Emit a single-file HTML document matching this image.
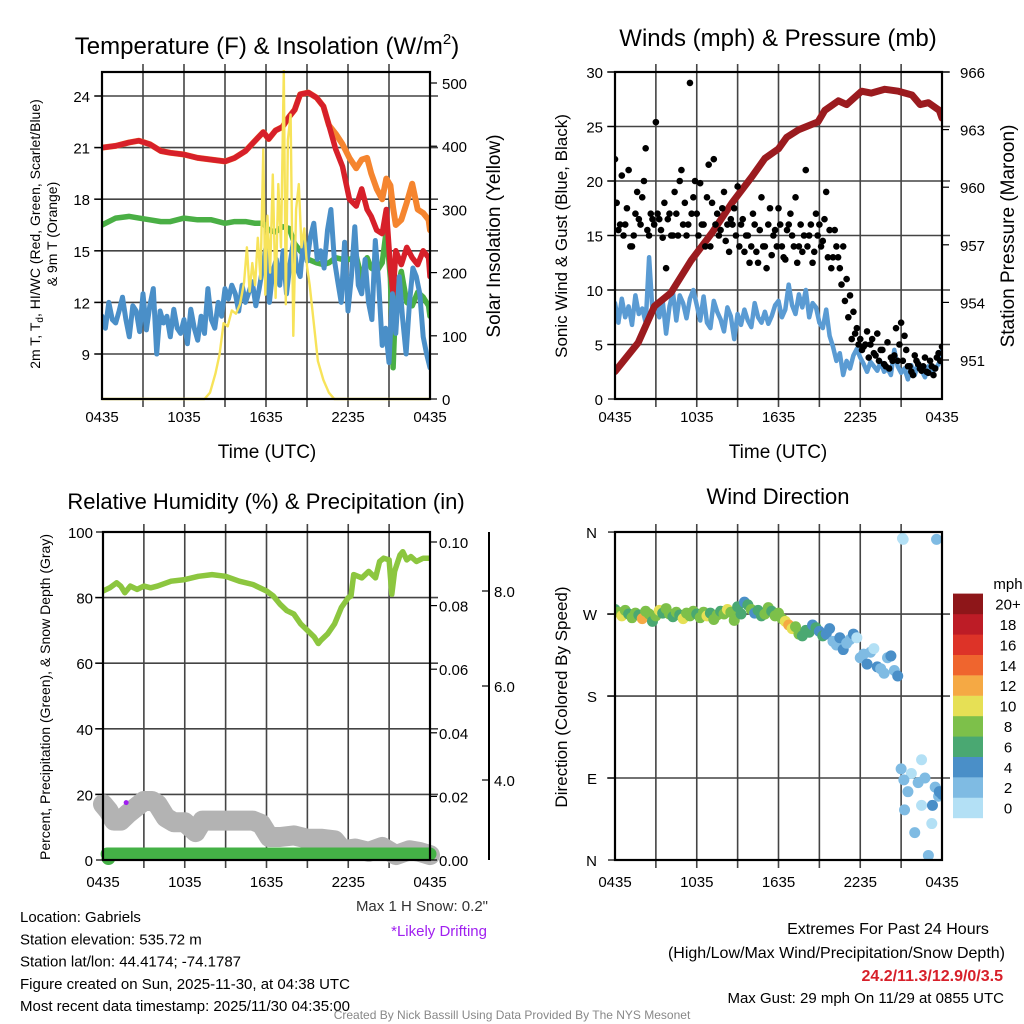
<!DOCTYPE html>
<html><head><meta charset="utf-8">
<style>
html,body{margin:0;padding:0;background:#fff;}
svg{display:block;font-family:"Liberation Sans",Arial,sans-serif;}
</style></head>
<body>
<svg id="chart" xmlns="http://www.w3.org/2000/svg" width="1024" height="1024" viewBox="0 0 1024 1024"></svg>
<script>
// ---------- data ----------
const tickLabels = ["0435","1035","1635","2235","0435"];
const tH = [0,1,2,2.7,3.5,4.3,5,6,7,8,9,9.7,10.5,11.2,11.8,12.2,12.7,13.2,13.7,14.1,14.5,15.1,15.7,16.2,16.6,17.1,17.6,18.1,18.6,19,19.4,19.7,20.1,20.5,20.8,21.1,21.3,21.5,21.9,22.3,22.7,23.1,23.5,23.9,24];
const temp2m = [21,21.1,21.3,21.4,21.2,20.8,20.7,20.6,20.4,20.3,20.2,20.4,20.8,21.4,21.9,21.5,22,22.2,22.8,23.2,24.1,24.2,23.9,23.4,22.3,20.9,19.9,18,17.6,18.6,17.4,17,16.2,16,17.4,14,12.5,15,14.2,15.2,14.6,14.2,15,14.6,13.5];
const temp9m = [21,21.1,21.3,21.4,21.2,20.8,20.7,20.6,20.4,20.3,20.2,20.4,20.8,21.4,21.9,21.5,22,22.2,22.8,23.2,24.1,24.2,23.9,23.4,22.3,21.8,21.2,20.4,19.8,20.3,20.4,19.5,18.6,18,19.2,18.8,17.5,16.5,16.8,17.8,18.9,17.4,17.2,16.8,16.2];
const dewpoint = [16.5,16.9,17.0,16.9,16.8,16.7,16.7,16.9,16.8,16.8,16.6,16.7,16.7,16.6,16.6,16.2,16.1,16.4,16.3,15.4,15,14.5,14.3,14.2,14.3,14.6,14.5,14.5,14.7,13.4,14.6,14.0,13.8,14.3,16.2,13.4,8.2,12.4,13.8,12,11.8,12.6,12.3,11.8,11.2];
const windChill = [11.2,10.5,12,11,10.8,11.5,12.3,11,10,11.8,11.5,10.3,
12.5,10.4,11.8,12.8,9.0,11.5,10.8,11.2,10,11.6,10.5,10.2,
11,9.6,11.6,10.5,9.8,11.2,10.2,12.8,11,10.5,12,11.2,
12.8,12.2,13,12.5,11.5,13,12,12.6,13.2,11.8,12.8,14,
15.2,12,13.8,14.5,13,15,12.5,14.2,15.5,14,13.5,15.8,
14.4,15.8,16.6,14.5,15,14,16.2,17.4,14.5,13.2,12,15.5,
11.5,13.5,16.4,13,12.5,14.5,12,11,15.6,13,9.5,10.5,
8.5,12.5,10.2,13.5,11,9,12,14,13.5,12.5,10,9.0,8.2];
const solarH = [0,7.5,7.9,8.3,8.6,8.9,9.2,9.5,9.8,10.1,10.4,10.6,10.8,11.0,11.2,11.4,11.6,11.8,11.95,12.1,12.3,12.5,12.7,12.9,13.1,13.3,13.45,13.6,13.8,14.0,14.2,14.4,14.6,14.8,15.0,15.2,15.5,15.8,16.2,16.6,17.0,24];
const solar = [0,0,10,40,70,120,115,140,135,150,185,240,170,215,180,255,190,395,165,290,200,355,160,340,240,520,150,410,450,100,300,340,240,270,210,180,120,60,30,10,0,0];
const windSpd = [8.8,7,9.2,7.5,8.5,6.8,9.5,7.8,8.3,7,13,8,
8.8,7.5,9,6,8.5,9.8,7.2,9.5,8.8,7.4,9.2,10,
8.6,7.2,9.4,7,6.5,9,8,7.3,6.2,8.4,7.6,5.5,
7.8,6.8,8.2,7.2,6.6,8.8,7.5,7,8,6.9,7.6,8.6,
9,7.5,8.2,10.5,8.6,7.8,9.6,8.4,10,7.5,8.8,8.4,
7,6.5,8.2,5.8,4.8,3.5,4.2,2.2,3.5,2.8,4,4.6,
3.8,3.2,2.5,3.4,3,2.6,3.4,2.5,2.8,2.2,4.5,3,
2.4,2.8,1.8,3.1,2.2,3.4,2.6,2,3,2.4,2.8,3.2,4.5];
const gustA = [22,15.5,20.5,16,21,14,17,16.5,18.5,23,15,16.5,
25.4,16.5,14.8,12,17,15,17,20,16,15,29,18.5,
17,19.8,16,18.5,14,22,17,15.5,19,16,16.5,17.5,
19.5,16,13.5,15,14,16,12.5,18.5,14,16,13.2,15.5,
17.5,14,12.8,16,15,18.5,14,13.5,21,15,12.5,17,
16,14.5,19,15.5,13,14,12,14,11,9.5,8,6.5,
5.5,4.8,6.2,5,4.2,6,4.5,3.2,5.2,3.8,4,3.5,
7,5.8,3,2.5,4,3.2,2.6,3.8,2.4,3,2.8,4.2,4.8];
const gustB = [18,16,15,17.5,14,15,19,16,20,15.5,17,16,
17,15.5,18,16.5,15,19,15,21,18,16,17,20,
15,16,14,21.5,18,16,15,17.5,14.5,13.5,16,15,
14,16.5,15,12.5,17,13.5,15.5,14,12,17.5,15,14,
16,13,15.5,17,14,12.5,16,15,14,16,13.5,15,
14,16.5,13,12,15.5,13,10.5,9,7.5,5.5,6,5,
4.5,5,3.8,5.5,4,3.5,4.5,3,2.8,3.5,6.5,5,
3.5,4.5,3,2.2,3.5,2.8,3,2.5,3.5,2.2,3.8,3.5];
const presH = [0,1.7,2.9,4.1,5.6,7.1,8.6,10.1,11.0,12.0,12.6,13.5,14.9,15.4,16.4,17.0,18.1,18.8,19.8,20.8,21.8,22.4,23.0,23.8,24];
const pressure = [950.4,951.9,953.8,954.5,956.2,957.6,959.2,960.6,961.5,962.0,962.6,963.0,963.4,964.0,964.5,964.3,965.0,964.9,965.1,965.0,964.8,964.3,964.4,964.0,963.6];
const rhH = [0,0.5,1,1.3,1.6,2,2.5,3,3.5,4,5,6,7,8,9,10,11,12,12.5,13,13.5,14,14.5,15,15.5,15.8,16,16.5,17,17.5,18,18.2,18.4,19,19.5,20,20.3,20.6,21,21.2,21.4,21.8,22,22.3,22.6,23,23.5,24];
const rh = [82,83,84.5,83.5,81.5,83.5,82.5,83.5,83,83.5,85,85.5,86.5,87,86.5,85,84,82,80.5,78,76,75,72,70,68,66,67,69,72,77,80,80.5,87,86,88,86,91,92,91.5,81,88,93,94,91.5,92.5,91,92,92];
const snowH = [0,0.4,0.8,1.3,1.8,2.4,3,3.6,4,4.6,5.2,6,6.8,7.3,8,9,10,11,11.6,12.2,13,14,15,16,17,17.6,18.5,19.5,20.5,21.5,22.5,23.2,24];
const snowDepth = [17,15,12,12,14,16,18,18,17,13,11.5,11.5,8.5,12,12,12,12,12,11,7,7,7.5,6.5,6.5,6,3,3.5,2.5,4,1.5,3,2.5,1.5];
const precipH = [0.3,24];
const precip = [0,0];
const driftH = [1.7];
const driftV = [17.5];
const dirDeg = [275,272,268,274,270,266,271,269,265,273,270,262,
268,274,271,276,270,267,272,269,265,271,268,273,
270,266,272,268,271,264,269,273,270,275,272,263,
278,270,283,280,275,271,274,268,270,277,273,268,
271,265,262,258,254,256,248,246,252,250,258,255,
251,246,248,254,240,236,244,231,238,242,248,244,
222,226,215,228,232,212,210,205,222,224,208,202,
100,55,75,95,30,85,60,90,5,40,80,70,72];
const dirSpd = [7,9,10,8,7,9,8,6,12,8,9,7,
8,10,7,9,8,6,9,7,10,8,9,8,
7,9,8,10,6,8,9,7,8,10,9,8,
6,7,5,7,8,4,6,7,8,9,7,8,
9,8,10,12,10,8,9,6,7,6,5,6,
4,6,4,5,3,2,4,5,3,2,4,1,
2,3,4,2,1,4,3,2,2,4,3,4,
2,3,2,1,2,3,0,2,3,1,2,3,4];
const extraH = [21.1,21.15,23.6,22.5,21.2,23.3,23.8];
const extraDeg = [353,352,352,110,88,60,75];
const extraSpd = [0,0,2,0,2,4,4];
const cbLabels = ["0","2","4","6","8","10","12","14","16","18","20+"];
const cbColors = ["#b3e0f5","#7fbbe3","#4a8fc8","#4aa872","#7dc04a","#e6e055","#f5a944","#ef652e","#dd3328","#bd1c26","#8e1619"];

// ---------- helpers ----------
const svg = document.getElementById('chart');
const NS = "http://www.w3.org/2000/svg";
function mk(tag, attrs, parent){const e=document.createElementNS(NS,tag);for(const k in attrs)e.setAttribute(k,attrs[k]);(parent||svg).appendChild(e);return e;}
function txt(s, x, y, size, opts, parent){opts=opts||{};const t=mk('text',{x:x,y:y,'font-size':size,'text-anchor':opts.anchor||'middle',fill:opts.fill||'#000'},parent);if(opts.rot!==undefined)t.setAttribute('transform','rotate('+opts.rot+' '+x+' '+y+')');if(opts.weight)t.setAttribute('font-weight',opts.weight);t.textContent=s;return t;}
function xs(P,h){return P.x0+h/24*(P.x1-P.x0);}
function pathFrom(P,hs,vs,yf){let d='';for(let i=0;i<hs.length;i++){d+=(i?'L':'M')+xs(P,hs[i]).toFixed(1)+','+yf(vs[i]).toFixed(1);}return d;}
function steps(n){const a=[];for(let i=0;i<n;i++)a.push(i*0.25);return a;}
const qH = steps(97);

function frame(P, name){
  const g=mk('g',{});
  
  
  for(let i=1;i<8;i++){const x=P.x0+i*(P.x1-P.x0)/8;const l=mk('line',{x1:x,y1:P.y0-8,x2:x,y2:P.y1+8,stroke:'#444','stroke-width':1.6},g);}
  return g;
}
function hgrid(P, ys){for(const y of ys){const l=mk('line',{x1:P.x0-8,y1:y,x2:P.x1+8,y2:y,stroke:'#444','stroke-width':1.6});}}
function border(P,name){const r=mk('rect',{x:P.x0,y:P.y0,width:P.x1-P.x0,height:P.y1-P.y0,fill:'none',stroke:'#000','stroke-width':2.2});}
function xticks(P, ly){for(let i=0;i<5;i++){const x=P.x0+i*(P.x1-P.x0)/4;const t=txt(tickLabels[i],x,ly,15);}}
function clip(P,id){const c=mk('clipPath',{id:id});mk('rect',{x:P.x0,y:P.y0-2,width:P.x1-P.x0,height:P.y1-P.y0+4},c);}

// ================= PANEL 1 =================
const P1={x0:102,x1:430,y0:72,y1:399};
const yT = v=>96+(24-v)*17.2;
const yS = w=>399-w*0.632;
clip(P1,'c1');
frame(P1,'temperature');
hgrid(P1,[9,12,15,18,21,24].map(yT));
const g1=mk('g',{'clip-path':'url(#c1)',fill:'none','stroke-linejoin':'round','stroke-linecap':'round'});


let e;
e=mk('path',{d:pathFrom(P1,tH,dewpoint,yT),stroke:'#4aaf45','stroke-width':5.5},g1);


e=mk('path',{d:pathFrom(P1,tH,temp9m,yT),stroke:'#f5852f','stroke-width':6},g1);


e=mk('path',{d:pathFrom(P1,tH,temp2m,yT),stroke:'#d7202a','stroke-width':5.5},g1);


e=mk('path',{d:pathFrom(P1,qH,windChill,yT),stroke:'#4a8fc8','stroke-width':5},g1);


e=mk('path',{d:pathFrom(P1,solarH,solar,yS),stroke:'#f7e35a','stroke-width':2.4},g1);


border(P1,'temperature');
xticks(P1,422);
for(const v of [9,12,15,18,21,24]){const y=yT(v);mk('line',{x1:P1.x0-7,y1:y,x2:P1.x0,y2:y,stroke:'#000','stroke-width':1.2});e=txt(String(v),P1.x0-12,y+6,15,{anchor:'end'});}
for(const v of [0,100,200,300,400,500]){const y=yS(v);mk('line',{x1:P1.x1,y1:y,x2:P1.x1+7,y2:y,stroke:'#000','stroke-width':1.2});e=txt(String(v),P1.x1+12,y+6,15,{anchor:'start'});}
e=txt('',267,54,24);
e.innerHTML='Temperature (F) &amp; Insolation (W/m<tspan font-size="15" dy="-10">2</tspan><tspan dy="10">)</tspan>';
e=txt('Time (UTC)',267,458,19);
e=txt('',40,234,14,{rot:-90});
e.innerHTML='2m T, T<tspan font-size="10" dy="3">d</tspan><tspan dy="-3">, HI/WC (Red, Green, Scarlet/Blue)</tspan>';
e=txt('& 9m T (Orange)',57,234,14,{rot:-90});
e=txt('Solar Insolation (Yellow)',500,236,19,{rot:-90});

// ================= PANEL 2 =================
const P2={x0:615,x1:942,y0:72,y1:399};
const yW = m=>399-m*10.9;
const yP = p=>360-(p-951)*19.2;
clip(P2,'c2');
frame(P2,'winds');
hgrid(P2,[5,10,15,20,25,30].map(yW));
const g2=mk('g',{'clip-path':'url(#c2)','stroke-linejoin':'round','stroke-linecap':'round'});


e=mk('path',{d:pathFrom(P2,qH,windSpd,yW),stroke:'#5a9bd3','stroke-width':4.5,fill:'none'},g2);


e=mk('path',{d:pathFrom(P2,presH,pressure,yP),stroke:'#9b1b1f','stroke-width':7,fill:'none'},g2);


for(let i=0;i<gustA.length;i++){const c=mk('circle',{cx:xs(P2,qH[i]),cy:yW(gustA[i]),r:3.3,fill:'#000'},g2);}
for(let i=0;i<gustB.length;i++){const c=mk('circle',{cx:xs(P2,qH[i]+0.125),cy:yW(gustB[i]),r:3.3,fill:'#000'},g2);}
border(P2,'winds');
xticks(P2,422);
for(const v of [0,5,10,15,20,25,30]){const y=yW(v);mk('line',{x1:P2.x0-7,y1:y,x2:P2.x0,y2:y,stroke:'#000','stroke-width':1.2});e=txt(String(v),P2.x0-12,y+6,15,{anchor:'end'});}
for(const v of [951,954,957,960,963,966]){const y=yP(v);mk('line',{x1:P2.x1,y1:y,x2:P2.x1+7,y2:y,stroke:'#000','stroke-width':1.2});e=txt(String(v),P2.x1+18,y+6,15,{anchor:'start'});}
e=txt('Winds (mph) & Pressure (mb)',778,46,24);
e=txt('Time (UTC)',778,458,19);
e=txt('Sonic Wind & Gust (Blue, Black)',567,236,17,{rot:-90});
e=txt('Station Pressure (Maroon)',1014,236,19,{rot:-90});

// ================= PANEL 3 =================
const P3={x0:103,x1:430,y0:532,y1:860};
const yR = v=>860-v*3.28;
const yPr = p=>860-p*3180;
clip(P3,'c3');
frame(P3,'humidity');
hgrid(P3,[20,40,60,80].map(yR));
const g3=mk('g',{'stroke-linejoin':'round','stroke-linecap':'round',fill:'none'});


e=mk('path',{d:pathFrom(P3,snowH,snowDepth,yR),stroke:'#b3b3b3','stroke-width':20},g3);


e=mk('path',{d:pathFrom(P3,precipH,precip,p=>yPr(p)-6),stroke:'#44b146','stroke-width':13},g3);


e=mk('circle',{cx:xs(P3,0.4),cy:yPr(0)-2,r:7,fill:'#44b146',stroke:'none'},g3);


e=mk('path',{d:pathFrom(P3,rhH,rh,yR),stroke:'#8cc63f','stroke-width':5.5,'clip-path':'url(#c3)'},g3);


for(let i=0;i<driftH.length;i++){e=mk('circle',{cx:xs(P3,driftH[i]),cy:yR(driftV[i]),r:2.5,fill:'#a020f0'});}
border(P3,'humidity');
xticks(P3,887);
for(const v of [0,20,40,60,80,100]){const y=yR(v);mk('line',{x1:P3.x0-7,y1:y,x2:P3.x0,y2:y,stroke:'#000','stroke-width':1.2});e=txt(String(v),P3.x0-10,y+6,15,{anchor:'end'});}
for(const v of [0,0.02,0.04,0.06,0.08,0.10]){const y=yPr(v);mk('line',{x1:P3.x1,y1:y,x2:P3.x1+7,y2:y,stroke:'#000','stroke-width':1.2});e=txt(v.toFixed(2),P3.x1+9,y+6,15,{anchor:'start'});}
e=mk('line',{x1:489,y1:532,x2:489,y2:860,stroke:'#000','stroke-width':2});
for(const [v,y] of [["8.0",591],["6.0",686],["4.0",780]]){mk('line',{x1:482,y1:y,x2:489,y2:y,stroke:'#000','stroke-width':1.2});e=txt(v,494,y+6,15,{anchor:'start'});}
e=txt('Relative Humidity (%) & Precipitation (in)',266,509,22);
e=txt('Percent, Precipitation (Green), & Snow Depth (Gray)',50,697,14,{rot:-90});
e=txt('Max 1 H Snow: 0.2"',488,911,15,{anchor:'end',fill:'#333'});
e=txt('*Likely Drifting',487,936,15,{anchor:'end',fill:'#a020f0'});

// ================= PANEL 4 =================
const P4={x0:615,x1:942,y0:532,y1:860};
const yD = d=>860-d*0.911;
const binColor = s=>cbColors[Math.min(10,Math.floor(s/2))];
clip(P4,'c4');
frame(P4,'wind-direction');
hgrid(P4,[270,180,90].map(yD));
const g4=mk('g',{'clip-path':'url(#c4)'});


for(let i=0;i<dirDeg.length;i++){const c=mk('circle',{cx:xs(P4,qH[i]),cy:yD(dirDeg[i]),r:5.5,fill:binColor(dirSpd[i])},g4);}
for(let i=0;i<extraH.length;i++){const c=mk('circle',{cx:xs(P4,extraH[i]),cy:yD(extraDeg[i]),r:5.5,fill:binColor(extraSpd[i])},g4);}
border(P4,'wind-direction');
xticks(P4,887);
for(const [s,d] of [["N",360],["W",270],["S",180],["E",90],["N",0]]){const y=yD(d);mk('line',{x1:P4.x0-7,y1:y,x2:P4.x0,y2:y,stroke:'#000','stroke-width':1.2});e=txt(s,P4.x0-18,y+6,15,{anchor:'end'});}
e=txt('Wind Direction',778,504,22);
e=txt('Direction (Colored By Speed)',567,697,17,{rot:-90});
const cb=mk('g',{});


for(let i=0;i<cbColors.length;i++){const y=818-(i+1)*20.4;const r=mk('rect',{x:953,y:y,width:30,height:20.6,fill:cbColors[i]},cb);const t=txt(cbLabels[i],1008,y+16,15,{},cb);}
e=txt('mph',1008,589,15);

// ================= FOOTER =================
const info=["Location: Gabriels","Station elevation: 535.72 m","Station lat/lon: 44.4174; -74.1787","Figure created on Sun, 2025-11-30, at 04:38 UTC","Most recent data timestamp: 2025/11/30 04:35:00"];
info.forEach((s,i)=>{const t=txt(s,20,922+i*22.3,15,{anchor:'start'});});
e=txt('Extremes For Past 24 Hours',888,934,16);
e=txt('(High/Low/Max Wind/Precipitation/Snow Depth)',1005,958,16,{anchor:'end'});
e=txt('24.2/11.3/12.9/0/3.5',1003,981,16,{anchor:'end',fill:'#d7202a',weight:'bold'});
e=txt('Max Gust: 29 mph On 11/29 at 0855 UTC',1004,1003,15,{anchor:'end'});
e=txt('Created By Nick Bassill Using Data Provided By The NYS Mesonet',512,1019,12,{fill:'#888'});
</script>
</body></html>
